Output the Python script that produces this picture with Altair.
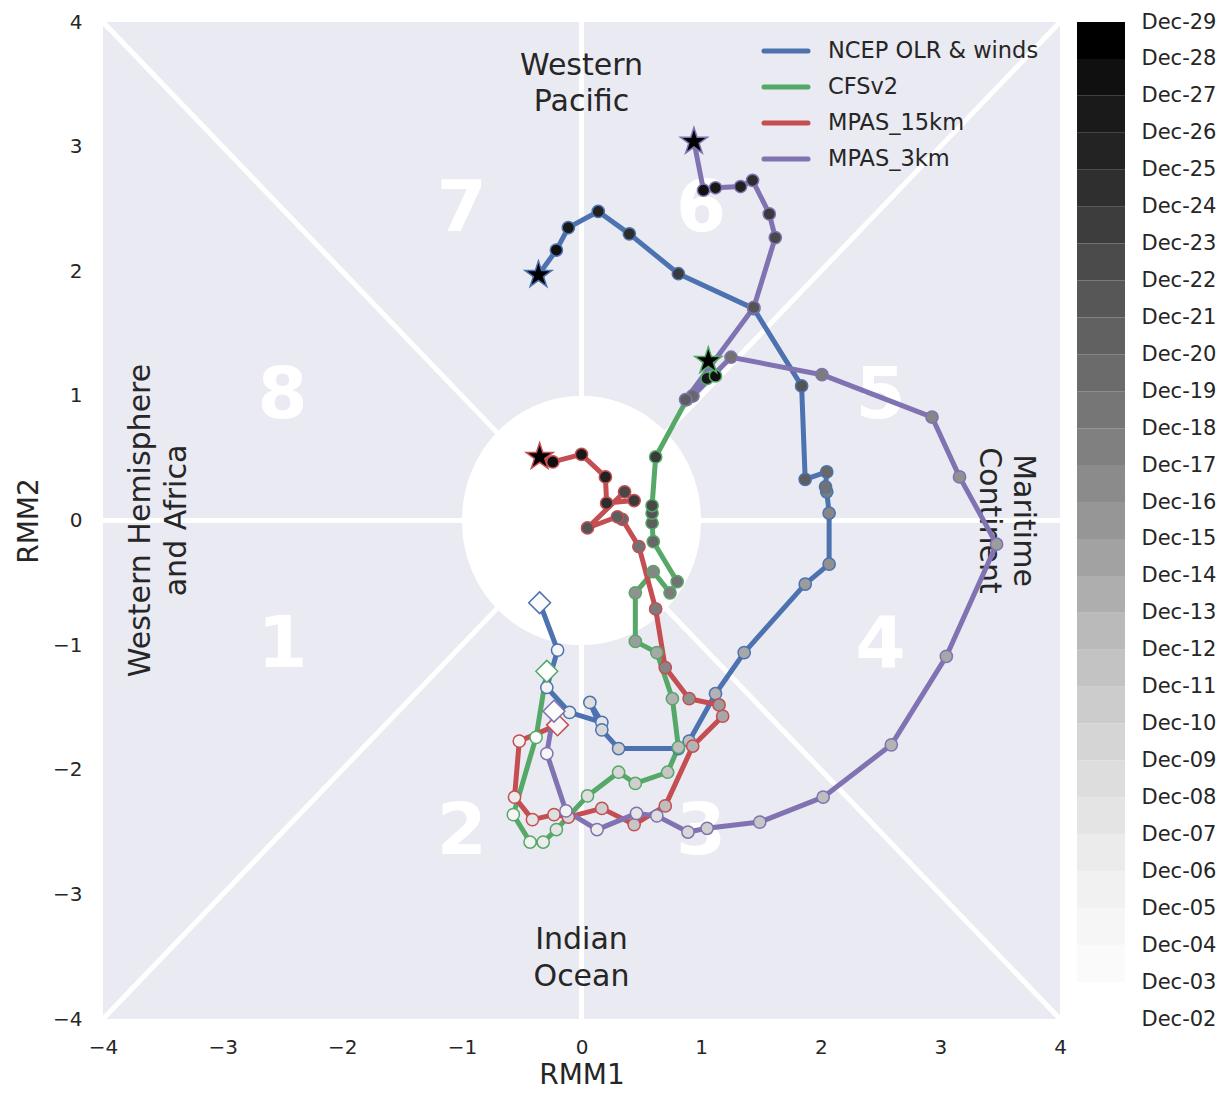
import altair as alt
import numpy as np
import pandas as pd

# ---------------- data ----------------
models = ["NCEP OLR & winds", "CFSv2", "MPAS_15km", "MPAS_3km"]
model_colors = ["#4C72B0", "#55A868", "#C44E52", "#8172B2"]

ncep_rmm1 = [-0.35, -0.20, -0.29, -0.10, 0.17, 0.07, 0.17, 0.31, 0.81, 0.90, 1.12, 1.36,
             1.87, 2.07, 2.07, 2.05, 2.04, 2.05, 1.87, 1.84, 1.44, 0.81, 0.40, 0.14,
             -0.11, -0.21, -0.36]
ncep_rmm2 = [-0.66, -1.04, -1.34, -1.54, -1.62, -1.46, -1.68, -1.83, -1.83, -1.77, -1.39, -1.06,
             -0.51, -0.35, 0.06, 0.23, 0.27, 0.39, 0.33, 1.08, 1.70, 1.98, 2.30, 2.48,
             2.35, 2.17, 1.97]

cfs_rmm1 = [-0.29, -0.38, -0.57, -0.43, -0.32, -0.21, 0.05, 0.31, 0.45, 0.72, 0.81, 0.76,
            0.63, 0.45, 0.45, 0.60, 0.74, 0.80, 0.60, 0.59, 0.59, 0.59, 0.62, 0.88,
            0.93, 1.05, 1.12, 1.06]
cfs_rmm2 = [-1.21, -1.74, -2.36, -2.58, -2.58, -2.48, -2.21, -2.02, -2.11, -2.02, -1.82, -1.43,
            -1.06, -0.97, -0.58, -0.41, -0.58, -0.49, -0.17, -0.02, 0.06, 0.12, 0.51, 0.97,
            1.00, 1.14, 1.16, 1.28]

m15_rmm1 = [-0.20, -0.52, -0.56, -0.41, -0.23, -0.11, 0.17, 0.44, 0.70, 0.93, 1.18, 1.15,
            0.90, 0.70, 0.62, 0.48, 0.34, 0.30, 0.05, 0.36, 0.44, 0.21, 0.20, 0.00,
            -0.24, -0.35]
m15_rmm2 = [-1.64, -1.77, -2.22, -2.40, -2.36, -2.38, -2.31, -2.44, -2.29, -1.81, -1.57, -1.48,
            -1.43, -1.18, -0.71, -0.21, 0.01, 0.03, -0.06, 0.23, 0.16, 0.14, 0.35, 0.53,
            0.47, 0.51]

m3_rmm1 = [-0.23, -0.29, -0.13, 0.13, 0.46, 0.63, 0.89, 1.05, 1.49, 2.02, 2.59, 3.05,
           3.47, 3.16, 2.93, 2.01, 1.25, 0.93, 0.87, 1.44, 1.62, 1.57, 1.43, 1.33,
           1.12, 1.02, 0.94]
m3_rmm2 = [-1.53, -1.87, -2.33, -2.48, -2.35, -2.37, -2.50, -2.47, -2.42, -2.22, -1.80, -1.09,
           -0.19, 0.35, 0.83, 1.17, 1.31, 1.00, 0.97, 1.71, 2.27, 2.46, 2.73, 2.68,
           2.67, 2.65, 3.04]

series_x = [ncep_rmm1, cfs_rmm1, m15_rmm1, m3_rmm1]
series_y = [ncep_rmm2, cfs_rmm2, m15_rmm2, m3_rmm2]

cbar_days = list(range(2, 30))          # Dec-02 ... Dec-29

phase_labels = ["1", "2", "3", "4", "5", "6", "7", "8"]
phase_x = [-2.5, -1.0, 1.0, 2.5, 2.5, 1.0, -1.0, -2.5]
phase_y = [-1.0, -2.5, -2.5, -1.0, 1.0, 2.5, 2.5, 1.0]

horiz_text = ["Western", "Pacific", "Indian", "Ocean"]
horiz_x = [0.0, 0.0, 0.0, 0.0]
horiz_y = [3.645, 3.355, -3.37, -3.66]
left_text = ["Western Hemisphere", "and Africa"]
left_x = [-3.685, -3.385]
left_y = [0.0, 0.0]
right_text = ["Maritime", "Continent"]
right_x = [3.69, 3.41]
right_y = [0.0, 0.0]

axis_ticks = [-4, -3, -2, -1, 0, 1, 2, 3, 4]

# matplotlib "Greys" colour stops
greys = ["#ffffff", "#f0f0f0", "#d9d9d9", "#bdbdbd", "#969696",
         "#737373", "#525252", "#252525", "#000000"]

# ---------------- tables ----------------
rows = []
for m, xs, ys in zip(models, series_x, series_y):
    n = len(xs)
    days = list(range(30 - n, 30))
    for i, (a, b) in enumerate(zip(xs, ys)):
        kind = "start" if i == 0 else ("end" if i == n - 1 else "mid")
        rows.append({"model": m, "idx": i, "rmm1": a, "rmm2": b, "day": days[i], "kind": kind})
traj = pd.DataFrame(rows)

guide = pd.DataFrame({"x": [0, -4, -4, -4], "y": [-4, 0, -4, 4],
                      "x2": [0, 4, 4, 4], "y2": [4, 0, 4, -4]})
cx = np.linspace(-1, 1, 241)
cy = np.sqrt(np.clip(1 - cx ** 2, 0, None))
circle = pd.DataFrame({"x": cx, "y": cy, "y2": -cy})
phases = pd.DataFrame({"t": phase_labels, "x": phase_x, "y": phase_y})
htxt = pd.DataFrame({"t": horiz_text, "x": horiz_x, "y": horiz_y})
ltxt = pd.DataFrame({"t": left_text, "x": left_x, "y": left_y})
rtxt = pd.DataFrame({"t": right_text, "x": right_x, "y": right_y})

nb = len(cbar_days) - 1
cbar = pd.DataFrame({"d0": cbar_days[:-1], "d1": cbar_days[1:],
                     "c": [2 + 27 * i / (nb - 1) for i in range(nb)]})

# ---------------- scales / axes ----------------
W, H = 957, 997
xs_ = alt.Scale(domain=[-4, 4], nice=False, zero=False)
ys_ = alt.Scale(domain=[-4, 4], nice=False, zero=False)
grey_scale = alt.Scale(domain=list(np.linspace(2, 29, len(greys))), range=greys)
TXT = "#262626"
STAR = ("M0,-1L0.2245,-0.309L0.951,-0.309L0.363,0.118L0.588,0.809L0,0.382"
        "L-0.588,0.809L-0.363,0.118L-0.951,-0.309L-0.2245,-0.309Z")

xax = alt.Axis(values=axis_ticks, title="RMM1", grid=False, ticks=False, domain=False,
               format="d", labelFontSize=20, labelPadding=18, titleFontSize=28,
               titlePadding=4, labelColor=TXT, titleColor=TXT, titleFontWeight="normal",
               labelFlush=False, minExtent=38, maxExtent=38, orient="bottom")
yax = alt.Axis(values=axis_ticks, title="RMM2", grid=False, ticks=False, domain=False,
               format="d", labelFontSize=20, labelPadding=21, titleFontSize=28,
               titlePadding=10, labelColor=TXT, titleColor=TXT, titleFontWeight="normal",
               labelFlush=False, minExtent=50, maxExtent=50, orient="left")

X = alt.X("x:Q", scale=xs_, axis=xax)
Y = alt.Y("y:Q", scale=ys_, axis=yax)

rules = alt.Chart(guide).mark_rule(color="white", strokeWidth=5).encode(
    x=X, y=Y, x2="x2:Q", y2="y2:Q")

disk = alt.Chart(circle).mark_area(color="white", opacity=1).encode(x=X, y=Y, y2="y2:Q")

ph = alt.Chart(phases).mark_text(color="white", fontSize=72, fontWeight="bold",
                                 align="center", baseline="middle").encode(x=X, y=Y, text="t:N")

reg_h = alt.Chart(htxt).mark_text(color=TXT, fontSize=30, align="center",
                                  baseline="middle").encode(x=X, y=Y, text="t:N")
reg_l = alt.Chart(ltxt).mark_text(color=TXT, fontSize=30, align="center",
                                  baseline="middle", angle=270).encode(x=X, y=Y, text="t:N")
reg_r = alt.Chart(rtxt).mark_text(color=TXT, fontSize=30, align="center",
                                  baseline="middle", angle=90).encode(x=X, y=Y, text="t:N")

model_scale = alt.Scale(domain=models, range=model_colors)
PX = alt.X("rmm1:Q", scale=xs_, axis=xax)
PY = alt.Y("rmm2:Q", scale=ys_, axis=yax)

lines = alt.Chart(traj).mark_line(strokeWidth=5, strokeJoin="round").encode(
    x=PX, y=PY,
    color=alt.Color("model:N", scale=model_scale, sort=models, legend=None),
    order="idx:Q")

pts = alt.Chart(traj).mark_point(filled=True, strokeWidth=1.5, opacity=1).encode(
    x=PX, y=PY,
    fill=alt.Fill("day:Q", scale=grey_scale, legend=None),
    stroke=alt.Stroke("model:N", scale=model_scale, legend=None),
    shape=alt.Shape("kind:N", scale=alt.Scale(domain=["mid", "start", "end"],
                                              range=["circle", "diamond", STAR]),
                    legend=None),
    size=alt.Size("kind:N", scale=alt.Scale(domain=["mid", "start", "end"],
                                            range=[150, 800, 720]), legend=None))

# legend (line swatch + label per model), placed in the upper-right of the panel
legend_layers = []
for k, (m, col) in enumerate(zip(models, model_colors)):
    yy = 29 + 36 * k
    row = pd.DataFrame({"m": [m]})
    legend_layers.append(
        alt.Chart(row).mark_rule(color=col, strokeWidth=5, strokeCap="round").encode(
            x=alt.value(661), x2=alt.value(705), y=alt.value(yy)))
    legend_layers.append(
        alt.Chart(row).mark_text(color=TXT, fontSize=22.5, align="left",
                                 baseline="middle").encode(
            x=alt.value(725), y=alt.value(yy), text="m:N"))

main = alt.layer(rules, disk, ph, reg_h, reg_l, reg_r, lines, pts, *legend_layers).properties(
    width=W, height=H, view=alt.ViewBackground(fill="#EAEAF2", strokeWidth=0))

cb = alt.Chart(cbar).mark_rect().encode(
    x=alt.value(0), x2=alt.value(48),
    y=alt.Y("d0:Q", scale=alt.Scale(domain=[2, 29], nice=False, zero=False),
            axis=alt.Axis(orient="right", values=cbar_days, title="", grid=False,
                          ticks=False, domain=False, labelFontSize=21, labelPadding=16,
                          labelColor=TXT, labelFlush=False,
                          labelExpr="'Dec-' + (datum.value < 10 ? '0' : '') + datum.value")),
    y2="d1:Q",
    fill=alt.Fill("c:Q", scale=grey_scale, legend=None),
).properties(width=48, height=H, view=alt.ViewBackground(strokeWidth=0))

chart = alt.hconcat(main, cb, spacing=17, bounds="flush").resolve_scale(
    fill="independent"
).properties(padding={"left": 7, "top": 3, "right": 0, "bottom": 0}).configure(
    font="DejaVu Sans").configure_view(strokeWidth=0)

chart.save("out.html", embed_options={"renderer": "svg", "actions": False})
